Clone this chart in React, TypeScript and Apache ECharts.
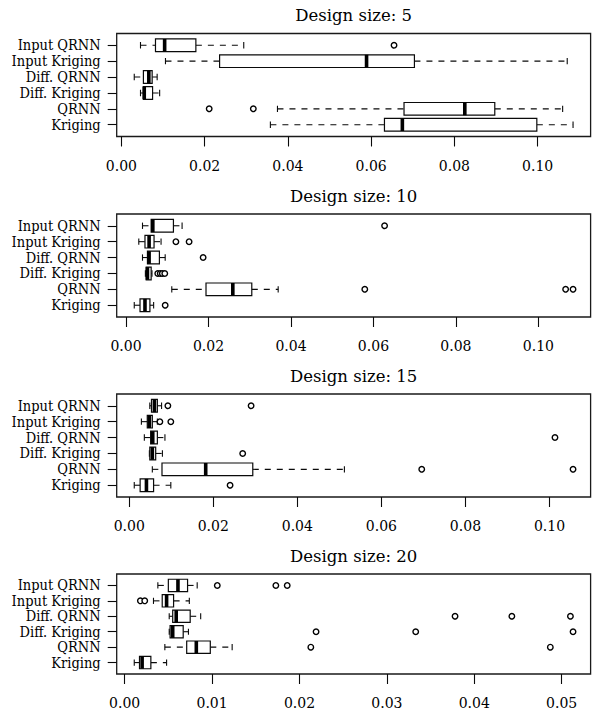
import React, { useEffect, useRef } from "react";
import * as echarts from "echarts";

// ---------- data ----------
const categories = ["Input QRNN", "Input Kriging", "Diff. QRNN", "Diff. Kriging", "QRNN", "Kriging"];

const panelTitles = ["Design size: 5", "Design size: 10", "Design size: 15", "Design size: 20"];

const ticksWide = [0, 0.02, 0.04, 0.06, 0.08, 0.1];
const ticksNarrow = [0, 0.01, 0.02, 0.03, 0.04, 0.05];

// [lower whisker, Q1, median, Q3, upper whisker] per category
const size5Stats = [
  [0.0046, 0.0082, 0.0104, 0.0179, 0.0294],
  [0.0106, 0.0236, 0.0589, 0.0704, 0.1071],
  [0.0031, 0.0053, 0.0066, 0.0074, 0.0086],
  [0.0046, 0.0053, 0.0055, 0.0075, 0.0092],
  [0.0375, 0.0679, 0.0825, 0.0897, 0.106],
  [0.0358, 0.0632, 0.0675, 0.0998, 0.1085],
];
const size5Outliers = [[0.0655], [], [], [], [0.0211, 0.0317], []];

const size10Stats = [
  [0.004, 0.0061, 0.0065, 0.0115, 0.0136],
  [0.0031, 0.0046, 0.0056, 0.0068, 0.0085],
  [0.004, 0.0052, 0.0056, 0.0081, 0.0095],
  [0.0047, 0.0049, 0.0052, 0.0061, 0.0063],
  [0.0111, 0.0194, 0.0259, 0.0305, 0.0369],
  [0.002, 0.0034, 0.0046, 0.0058, 0.0067],
];
const size10Outliers = [
  [0.0627],
  [0.0121, 0.0153],
  [0.0187],
  [0.0077, 0.0083, 0.0088, 0.0094],
  [0.0579, 0.1066, 0.1084],
  [0.0095],
];

const size15Stats = [
  [0.0049, 0.0053, 0.006, 0.0067, 0.0077],
  [0.0029, 0.0043, 0.0048, 0.0055, 0.0067],
  [0.0036, 0.0051, 0.0056, 0.0067, 0.0085],
  [0.0048, 0.0049, 0.0055, 0.0063, 0.0079],
  [0.0055, 0.0078, 0.0182, 0.0294, 0.0512],
  [0.0012, 0.0026, 0.0041, 0.0058, 0.0099],
];
const size15Outliers = [[0.0092, 0.029], [0.0073, 0.0099], [0.1013], [0.027], [0.0696, 0.1056], [0.024]];

const size20Stats = [
  [0.0038, 0.005, 0.0061, 0.0072, 0.0083],
  [0.0033, 0.0043, 0.0048, 0.0056, 0.0074],
  [0.0051, 0.0055, 0.0059, 0.0075, 0.0087],
  [0.0051, 0.0052, 0.0055, 0.0067, 0.0073],
  [0.0046, 0.0071, 0.0082, 0.0098, 0.0123],
  [0.0011, 0.0017, 0.002, 0.003, 0.0048],
];
const size20Outliers = [
  [0.0106, 0.0173, 0.0186],
  [0.0018, 0.0023],
  [0.0378, 0.0443, 0.051],
  [0.0219, 0.0333, 0.0513],
  [0.0213, 0.0487],
  [],
];

// ---------- layout ----------
const FONT = '"DejaVu Serif", serif';
const FONT_COND = '"DejaVu Serif Condensed", "DejaVu Serif", serif';
const INK = "#0a0a0a";
const gridTops = [33.5, 214, 394, 574];
const gridHeight = 103;
const gridLeft = 116.7;
const gridRight = 2.4;

const panels = [
  { title: panelTitles[0], stats: size5Stats, outliers: size5Outliers, ticks: ticksWide },
  { title: panelTitles[1], stats: size10Stats, outliers: size10Outliers, ticks: ticksWide },
  { title: panelTitles[2], stats: size15Stats, outliers: size15Outliers, ticks: ticksWide },
  { title: panelTitles[3], stats: size20Stats, outliers: size20Outliers, ticks: ticksNarrow },
];

function paddedRange(stats: number[][], outliers: number[][]) {
  const all: number[] = [];
  stats.forEach((s) => all.push(...s));
  outliers.forEach((o) => all.push(...o));
  const lo = Math.min(...all);
  const hi = Math.max(...all);
  const pad = (hi - lo) * 0.04;
  return [lo - pad, hi + pad];
}

function renderBox(params: any, api: any) {
  const row = api.value(0);
  const lo = api.coord([api.value(1), row]);
  const q1 = api.coord([api.value(2), row]);
  const med = api.coord([api.value(3), row]);
  const q3 = api.coord([api.value(4), row]);
  const hi = api.coord([api.value(5), row]);
  const bh = api.size([0, 0.8])[1];
  const half = bh / 2;
  const cap = bh / 4;
  const y = lo[1];
  const thin = { stroke: INK, lineWidth: 1.1, fill: null };
  const dashed = { stroke: INK, lineWidth: 1.1, lineDash: [6, 6], fill: null };
  const children: any[] = [];
  if (q1[0] - lo[0] > 0.5) {
    children.push({ type: "polyline", shape: { points: [[lo[0], y], [q1[0], y]] }, style: dashed });
  }
  if (hi[0] - q3[0] > 0.5) {
    children.push({ type: "polyline", shape: { points: [[q3[0], y], [hi[0], y]] }, style: dashed });
  }
  children.push(
    { type: "polyline", shape: { points: [[lo[0], y - cap], [lo[0], y + cap]] }, style: thin },
    { type: "polyline", shape: { points: [[hi[0], y - cap], [hi[0], y + cap]] }, style: thin },
    {
      type: "rect",
      shape: { x: q1[0], y: y - half, width: q3[0] - q1[0], height: bh },
      style: { fill: "#fff", stroke: INK, lineWidth: 1.2 },
    },
    {
      type: "polyline",
      shape: { points: [[med[0], y - half], [med[0], y + half]] },
      style: { stroke: "#000", lineWidth: 3.6, fill: null },
    }
  );
  return { type: "group", children };
}

function buildOption() {
  const grid: any[] = [];
  const xAxis: any[] = [];
  const yAxis: any[] = [];
  const series: any[] = [];
  const graphic: any[] = [];

  panels.forEach((p, i) => {
    const [xmin, xmax] = paddedRange(p.stats, p.outliers);
    grid.push({
      left: gridLeft,
      right: gridRight,
      top: gridTops[i],
      height: gridHeight,
      show: true,
      borderColor: "#1a1a1a",
      borderWidth: 1.3,
      backgroundColor: "transparent",
    });
    xAxis.push({
      type: "value",
      gridIndex: i,
      position: "bottom",
      min: xmin,
      max: xmax,
      axisLine: { show: false, onZero: false },
      splitLine: { show: false },
      axisTick: { show: true, length: 10, customValues: p.ticks, lineStyle: { color: INK, width: 1.1 } },
      axisLabel: {
        customValues: p.ticks,
        formatter: (v: number) => v.toFixed(2),
        margin: 22,
        fontFamily: FONT,
        fontSize: 14,
        color: "#000",
      },
    });
    yAxis.push({
      type: "value",
      gridIndex: i,
      position: "left",
      inverse: true,
      min: 0.26,
      max: 6.74,
      axisLine: { show: false, onZero: false },
      splitLine: { show: false },
      axisTick: { show: true, length: 9, customValues: [1, 2, 3, 4, 5, 6], lineStyle: { color: INK, width: 1.1 } },
      axisLabel: {
        customValues: [1, 2, 3, 4, 5, 6],
        formatter: (v: number) => categories[Math.round(v) - 1] || "",
        margin: 16,
        fontFamily: FONT_COND,
        fontSize: 14.5,
        color: "#000",
      },
    });
    series.push({
      type: "custom",
      name: "box" + i,
      xAxisIndex: i,
      yAxisIndex: i,
      renderItem: renderBox,
      encode: { x: [1, 2, 3, 4, 5], y: 0 },
      data: p.stats.map((s, k) => [k + 1, ...s]),
      silent: true,
      clip: true,
    });
    const pts: number[][] = [];
    p.outliers.forEach((arr, k) => arr.forEach((v) => pts.push([v, k + 1])));
    series.push({
      type: "scatter",
      name: "out" + i,
      xAxisIndex: i,
      yAxisIndex: i,
      data: pts,
      symbol: "circle",
      symbolSize: 5.5,
      itemStyle: { color: "#fff", borderColor: "#000", borderWidth: 1.4, opacity: 1 },
      silent: true,
      z: 5,
    });
    graphic.push({
      type: "text",
      x: gridLeft + (593 - gridLeft - gridRight) / 2,
      y: gridTops[i] - 18,
      style: {
        text: p.title,
        align: "center",
        verticalAlign: "middle",
        font: `16.5px ${FONT}`,
        fill: "#000",
      },
    });
  });

  return { animation: false, backgroundColor: "#fff", grid, xAxis, yAxis, series, graphic };
}

export default function App() {
  const ref = useRef<HTMLDivElement>(null);
  useEffect(() => {
    if (!ref.current) return;
    const chart = echarts.init(ref.current, undefined, { renderer: "svg" });
    chart.setOption(buildOption() as any);
    return () => chart.dispose();
  }, []);
  return (
    <div
      ref={ref}
      style={{ position: "fixed", left: 0, top: 0, width: 593, height: 710, background: "#fff" }}
    />
  );
}
